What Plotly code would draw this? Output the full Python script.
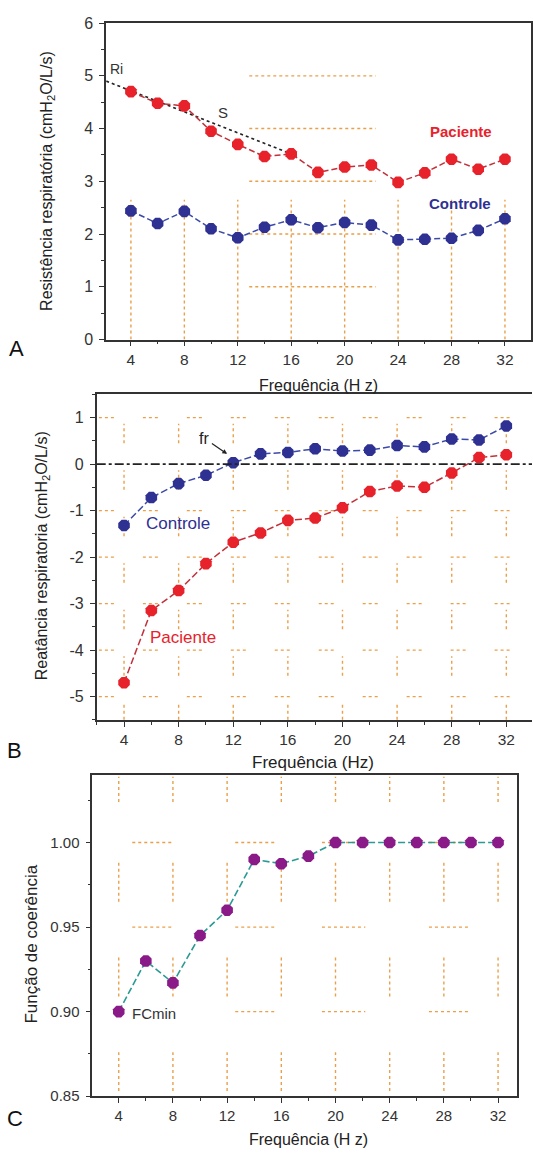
import plotly.graph_objects as go

# ---------------- data ----------------
freq = [4, 6, 8, 10, 12, 14, 16, 18, 20, 22, 24, 26, 28, 30, 32]

res_paciente = [4.70, 4.48, 4.43, 3.95, 3.70, 3.47, 3.52, 3.17, 3.27, 3.31, 2.98, 3.16, 3.42, 3.23, 3.42]
res_controle = [2.44, 2.20, 2.43, 2.10, 1.93, 2.13, 2.27, 2.12, 2.22, 2.17, 1.89, 1.90, 1.92, 2.07, 2.29]

reat_paciente = [-4.70, -3.15, -2.72, -2.14, -1.68, -1.48, -1.21, -1.16, -0.94, -0.59, -0.47, -0.50, -0.19, 0.14, 0.20]
reat_controle = [-1.32, -0.72, -0.42, -0.24, 0.03, 0.22, 0.25, 0.33, 0.28, 0.30, 0.40, 0.37, 0.54, 0.52, 0.82]

coerencia = [0.900, 0.930, 0.917, 0.945, 0.960, 0.990, 0.9875, 0.992, 1.000, 1.000, 1.000, 1.000, 1.000, 1.000, 1.000]

# extrapolation line "S" from intercept Ri
s_line_x = [2.15, 16]
s_line_y = [4.90, 3.52]

x_ticks = [4, 8, 12, 16, 20, 24, 28, 32]
x_minor = [2, 6, 10, 14, 18, 22, 26, 30]
yA_ticks = [0, 1, 2, 3, 4, 5, 6]
yB_ticks = [-5, -4, -3, -2, -1, 0, 1]
yC_ticks = [0.85, 0.90, 0.95, 1.00]

# ---------------- styles ----------------
W, H = 533, 1156
RED = "#E8222B"
RED_LINE = "#C23039"
BLUE = "#2E3192"
BLUE_LINE = "#3B4AA8"
PURPLE = "#8A1A87"
TEAL = "#2A9A93"
GRID = "#E9A04A"
FONT = "Liberation Sans, Arial, sans-serif"
AX = "#333333"


def px(x):
    return x / W


def py(y):
    return 1 - y / H


fig = go.Figure()

# panel A
fig.add_trace(go.Scatter(x=s_line_x, y=s_line_y, mode="lines",
                         line=dict(color="#222", width=1.6, dash="dot"),
                         xaxis="x", yaxis="y", showlegend=False, name="S"))
fig.add_trace(go.Scatter(x=freq, y=res_paciente, mode="lines+markers", name="Paciente",
                         line=dict(color=RED_LINE, width=1.5, dash="6px,3px"),
                         marker=dict(symbol="octagon", size=12.5, color=RED),
                         xaxis="x", yaxis="y", showlegend=False))
fig.add_trace(go.Scatter(x=freq, y=res_controle, mode="lines+markers", name="Controle",
                         line=dict(color=BLUE_LINE, width=1.5, dash="6px,3px"),
                         marker=dict(symbol="octagon", size=12.5, color=BLUE),
                         xaxis="x", yaxis="y", showlegend=False))

# panel B
fig.add_trace(go.Scatter(x=freq, y=reat_controle, mode="lines+markers", name="Controle",
                         line=dict(color=BLUE_LINE, width=1.5, dash="7px,3px"),
                         marker=dict(symbol="octagon", size=12.5, color=BLUE),
                         xaxis="x2", yaxis="y2", showlegend=False))
fig.add_trace(go.Scatter(x=freq, y=reat_paciente, mode="lines+markers", name="Paciente",
                         line=dict(color=RED_LINE, width=1.5, dash="7px,3px"),
                         marker=dict(symbol="octagon", size=12.5, color=RED),
                         xaxis="x2", yaxis="y2", showlegend=False))

# panel C
fig.add_trace(go.Scatter(x=freq, y=coerencia, mode="lines+markers", name="Coerência",
                         line=dict(color=TEAL, width=1.6, dash="7px,3px"),
                         marker=dict(symbol="octagon", size=12.5, color=PURPLE),
                         xaxis="x3", yaxis="y3", showlegend=False))

# ---------------- axes ----------------


def xaxis(domain, rng, anchor, size, mirror=True):
    return dict(domain=domain, range=rng, anchor=anchor, tickvals=x_ticks,
                ticks="outside", ticklen=5, tickwidth=1.3, tickcolor=AX,
                minor=dict(tickvals=x_minor, ticks="outside",
                           ticklen=3, tickwidth=1.2, tickcolor=AX),
                showline=True, linecolor=AX, linewidth=1.6, mirror=mirror,
                showgrid=False, zeroline=False,
                tickfont=dict(family=FONT, size=size, color=AX), fixedrange=True)


def yaxis(domain, rng, anchor, tickvals, ticktext, minor_dtick, size, mirror=True):
    return dict(domain=domain, range=rng, anchor=anchor,
                tickvals=tickvals, ticktext=ticktext,
                ticks="outside", ticklen=5, tickwidth=1.3, tickcolor=AX,
                ticklabelstandoff=3,
                minor=dict(dtick=minor_dtick, tick0=0, ticks="outside", ticklen=3,
                           tickwidth=1.2, tickcolor=AX),
                showline=True, linecolor=AX, linewidth=1.6, mirror=mirror,
                showgrid=False, zeroline=False,
                tickfont=dict(family=FONT, size=size, color=AX), fixedrange=True)


fig.update_layout(
    width=W, height=H,
    margin=dict(l=0, r=0, t=0, b=0),
    paper_bgcolor="white", plot_bgcolor="white",
    font=dict(family=FONT, color=AX),
    xaxis=xaxis([px(106.4), px(532)], [2.15, 33.95], "y", 15.5),
    yaxis=yaxis([py(336.5), py(15.3)], [0, 6], "x",
                yA_ticks, [str(v) for v in yA_ticks], 0.5, 16),
    xaxis2=xaxis([px(96.9), 1.0], [2.0, 33.88], "y2", 15.5),
    yaxis2=yaxis([py(722.5), py(392.1)], [-5.5, 1.5], "x2",
                 yB_ticks, [str(v) for v in yB_ticks], 0.5, 16, mirror=False),
    xaxis3=xaxis([px(92.5), px(518.4)], [2.05, 33.43], "y3", 15),
    yaxis3=yaxis([py(1104.4), py(778.4)], [0.85, 1.04], "x3",
                 yC_ticks, ["%.2f" % v for v in yC_ticks], 0.025, 15),
)

# ---------------- decorative dotted grid fragments ----------------
shapes = []
gstyle = dict(color=GRID, width=1.4, dash="dot")

# panel A
for xv in x_ticks:
    shapes.append(dict(type="line", xref="x", yref="y", x0=xv, x1=xv, y0=0, y1=2.65,
                       line=gstyle, layer="below"))
for yv in [1, 2, 3, 4, 5]:
    shapes.append(dict(type="line", xref="x", yref="y", x0=12.86, x1=22.33, y0=yv, y1=yv,
                       line=gstyle, layer="below"))

# panel B
for xv in x_ticks:
    for k in range(-6, 1):
        y0 = max(k + 0.45, -5.5)
        y1 = k + 0.87
        shapes.append(dict(type="line", xref="x2", yref="y2", x0=xv, x1=xv, y0=y0, y1=y1,
                           line=gstyle, layer="below"))
for yv in [-5, -4, -3, -2, -1, 1]:
    for i in range(10):
        c = 2.76 + 3.22 * i
        shapes.append(dict(type="line", xref="x2", yref="y2", x0=max(c - 0.6, 2.05), x1=c + 0.6,
                           y0=yv, y1=yv, line=gstyle, layer="below"))

# zero line in B
shapes.append(dict(type="line", xref="x2 domain", yref="y2", x0=0, x1=1, y0=0, y1=0,
                   line=dict(color="#222", width=1.6, dash="dashdot"), layer="above"))

# panel C
for xv in x_ticks:
    for (a, b) in [(0.853, 0.876), (0.909, 0.932), (0.965, 0.988), (1.024, 1.039)]:
        shapes.append(dict(type="line", xref="x3", yref="y3", x0=xv, x1=xv, y0=a, y1=b,
                           line=gstyle, layer="below"))
for yv in [0.90, 0.95, 1.00]:
    for (a, b) in [(5.0, 8.1), (12.6, 15.6), (19.0, 22.2), (26.9, 30.0)]:
        shapes.append(dict(type="line", xref="x3", yref="y3", x0=a, x1=b, y0=yv, y1=yv,
                           line=gstyle, layer="below"))

fig.update_layout(shapes=shapes)

# ---------------- annotations ----------------
ann = []


def paper_text(x, y, text, size, angle=0, color="#222"):
    ann.append(dict(xref="paper", yref="paper", x=px(x), y=py(y), text=text,
                    showarrow=False, textangle=angle, xanchor="center", yanchor="middle",
                    font=dict(family=FONT, size=size, color=color)))


# axis titles
paper_text(47.6, 176, "Resistência respiratória (cmH<sub>2</sub>O/L/s)", 16, -90)
paper_text(319, 383, "Frequência (H z)", 16)
paper_text(42.5, 556, "Reatância respiratoria (cmH<sub>2</sub>O/L/s)", 16, -90)
paper_text(314, 765.5, "Frequência (Hz)", 17)
paper_text(30.6, 950, "Função de coerência", 17, -90)
paper_text(309, 1148, "Frequência (H z)", 16)

# panel letters
paper_text(17, 345.5, "A", 22, color="#111")
paper_text(15, 753.6, "B", 22, color="#111")
paper_text(15, 1127.5, "C", 22, color="#111")

# in-plot labels
ann += [
    dict(xref="x", yref="y", x=2.95, y=5.12, text="Ri", showarrow=False,
         font=dict(family=FONT, size=14, color="#333")),
    dict(xref="x", yref="y", x=10.86, y=4.30, text="S", showarrow=False,
         font=dict(family=FONT, size=15, color="#333")),
    dict(xref="x", yref="y", x=28.7, y=3.95, text="<b>Paciente</b>", showarrow=False,
         font=dict(family=FONT, size=15, color=RED)),
    dict(xref="x", yref="y", x=28.6, y=2.58, text="<b>Controle</b>", showarrow=False,
         font=dict(family=FONT, size=15, color=BLUE)),
    dict(xref="x2", yref="y2", x=11.55, y=0.22, ax=9.84, ay=0.56, axref="x2", ayref="y2",
         text="fr", showarrow=True, arrowhead=2, arrowsize=0.8, arrowwidth=1.2,
         arrowcolor="#222", standoff=0, startstandoff=2,
         font=dict(family=FONT, size=16, color="#222")),
    dict(xref="x2", yref="y2", x=7.98, y=-1.28, text="Controle", showarrow=False,
         font=dict(family=FONT, size=17, color=BLUE)),
    dict(xref="x2", yref="y2", x=8.3, y=-3.72, text="Paciente", showarrow=False,
         font=dict(family=FONT, size=17, color=RED)),
    dict(xref="x3", yref="y3", x=4.85, y=0.899, text="FCmin", showarrow=False,
         xanchor="left", bgcolor="white",
         font=dict(family=FONT, size=15, color="#333")),
]
fig.update_layout(annotations=ann)

fig.write_html("out.html")
